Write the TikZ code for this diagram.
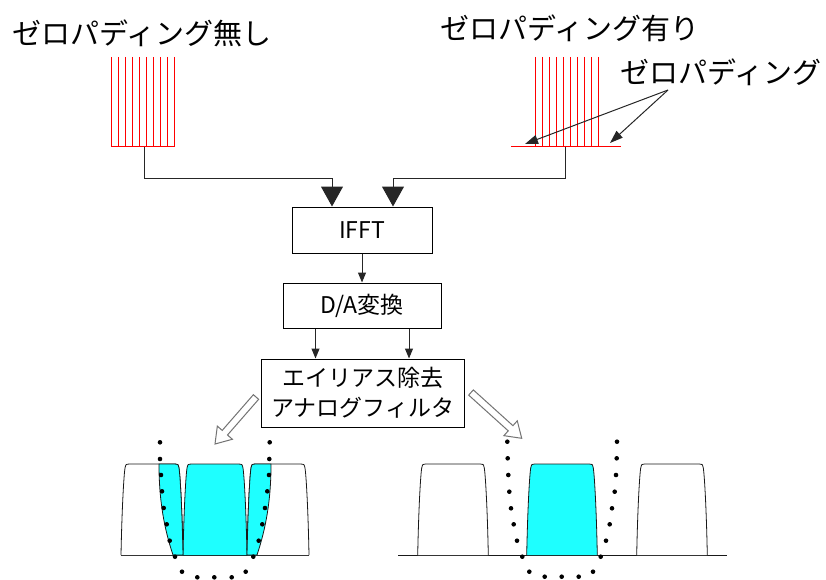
\documentclass[tikz,border=0pt]{standalone}
\usepackage{fontspec}
\setmainfont{Noto Sans CJK JP}
\usetikzlibrary{arrows.meta,calc}
\definecolor{aqua}{RGB}{30,255,255}
\definecolor{stemred}{RGB}{255,0,0}
\tikzset{
  stem/.style={draw=stemred, line width=1pt},
  conn/.style={line width=1pt, draw=black!85},
  bigarr/.style={conn, -{Triangle[width=22pt,length=20pt]}},
  smallarr/.style={conn, -{Triangle[width=8pt,length=10pt]}},
  lblarr/.style={conn, -{Triangle[width=9pt,length=13pt]}},
  blockbox/.style={draw=black, line width=1pt, inner sep=0pt, align=center, font=\fontsize{23}{30}\selectfont},
  titletext/.style={inner sep=0pt, font=\fontsize{29}{34}\selectfont},
  pulseline/.style={draw=black!90, line width=0.8pt},
  hollow/.style={draw=black!55, fill=white, line width=1pt, line join=miter},
  filtdot/.style={fill=black}
}
\newcommand\pulsepath[2]{(#1,555) .. controls ({#1+1},505) and ({#1+3},474) .. ({#1+4},468) .. controls ({#1+5},464) .. ({#1+8},464) -- ({#2-8},464) .. controls ({#2-5},464) .. ({#2-4},468) .. controls ({#2-3},474) and ({#2-1},505) .. (#2,555)}
\newcommand\hollowarr[2]{%
  \coordinate (#1b) at ($(#2)!15pt!(#1)$);
  \draw[hollow] ($(#1)!3.5pt!90:(#2)$) -- ($(#1b)!3.5pt!90:(#2)$) -- ($(#1b)!10pt!90:(#2)$) -- (#2) -- ($(#1b)!10pt!-90:(#2)$) -- ($(#1b)!3.5pt!-90:(#2)$) -- ($(#1)!3.5pt!-90:(#2)$) -- cycle;}
\begin{document}
\begin{tikzpicture}[x=1pt,y=-1pt]
\useasboundingbox (0,0) rectangle (826,580);

% titles
\node[titletext, anchor=west] (t1) at (12,33) {ゼロパディング無し};
\node[titletext, anchor=west] (t2) at (440,28) {ゼロパディング有り};
\node[titletext, anchor=west] (zplbl) at (620,72) {ゼロパディング};

% left stems
\foreach \i in {0,...,9} \draw[stem] ({111.5+7.05*\i},57) -- ({111.5+7.05*\i},147);
\draw[stem] (111.5,147) -- (175,147);
% right stems
\foreach \i in {0,...,9} \draw[stem] ({535+7*\i},57) -- ({535+7*\i},147);
\draw[stem] (511,147) -- (621,147);

\coordinate (lstem) at (144,147.5);
\coordinate (rstem) at (565.7,147.5);
\coordinate (zpfrom) at (668,90);
\coordinate (zpa) at (525,144);
\coordinate (zpb) at (610,143);
\draw[lblarr] (zpfrom) -- (zpa);
\draw[lblarr] (zpfrom) -- (zpb);

% blocks
\node[blockbox, minimum width=140pt, minimum height=46pt] (ifft) at (362,230) {IFFT};
\node[blockbox, minimum width=158pt, minimum height=45pt] (da) at (362,305.5) {D/A変換};
\node[blockbox, minimum width=203pt, minimum height=68pt] (filt) at (362.7,393) {エイリアス除去\\アナログフィルタ};

\coordinate (jl) at (332,178);
\coordinate (jr) at (393,178);
\draw[conn] (lstem) |- (jl);
\draw[bigarr] (jl) -- (jl |- ifft.north);
\draw[conn] (rstem) |- (jr);
\draw[bigarr] (jr) -- (jr |- ifft.north);
\draw[smallarr] (ifft.south) -- (da.north);
\draw[smallarr] ([xshift=-46.5pt]da.south) -- ([xshift=-46.5pt]da.south |- filt.north);
\draw[smallarr] ([xshift=47pt]da.south) -- ([xshift=47pt]da.south |- filt.north);

% hollow arrows
\coordinate (ha) at (256,397);
\coordinate (hat) at (215,444);
\coordinate (hb) at (471,392.5);
\coordinate (hbt) at (521.7,438.3);
\hollowarr{ha}{hat}
\hollowarr{hb}{hbt}

% left spectrum
\draw[pulseline] (121,555) -- (309,555);
\draw[pulseline, fill=white] \pulsepath{121}{183};
\draw[pulseline, fill=white] \pulsepath{247}{309};
\draw[pulseline, fill=aqua] \pulsepath{183}{247};
\draw[pulseline, fill=aqua] (173,555) .. controls (164,528) and (159,500) .. (159,464) -- (175,464) .. controls (178,464) .. (179,468) .. controls (180,474) and (182,505) .. (183,555) -- cycle;
\draw[pulseline, fill=aqua] (257,555) .. controls (266,528) and (271,500) .. (271,464) -- (255,464) .. controls (252,464) .. (251,468) .. controls (250,474) and (248,505) .. (247,555) -- cycle;
\foreach \p in {(160,442.3),(160,459),(161,475),(162,491.3),(163.7,508),(166.7,524.3),(169.7,540.7),(175,556.7),(182,571.7),(197.3,577.3),(214.3,577.3),(231.7,577.3),(245.7,571.7),(253.3,556.7),(258.7,540.7),(262.3,524.3),(265,508),(267.3,491.3),(269,475),(269.3,459),(269.7,442.3)}
  \fill[filtdot] \p circle (2.3pt);

% right spectrum
\draw[pulseline] (398,555) -- (727,555);
\draw[pulseline, fill=white] \pulsepath{417.7}{488.3};
\draw[pulseline, fill=aqua] \pulsepath{526.7}{597.3};
\draw[pulseline, fill=white] \pulsepath{636.7}{707.3};
\foreach \p in {(507.3,441.7),(507.7,458.3),(508.3,475),(509.3,491.7),(511,508.3),(513.7,524.3),(517,540.7),(522.3,556.7),(529.3,571.7),(544.7,576.7),(561.7,576.7),(578.7,576.7),(593,571.7),(600.7,556.7),(606,540.7),(609.7,524.3),(612,508.3),(614.7,491.7),(616,475),(616.7,458.3),(617,441.7)}
  \fill[filtdot] \p circle (2.3pt);
\end{tikzpicture}
\end{document}
